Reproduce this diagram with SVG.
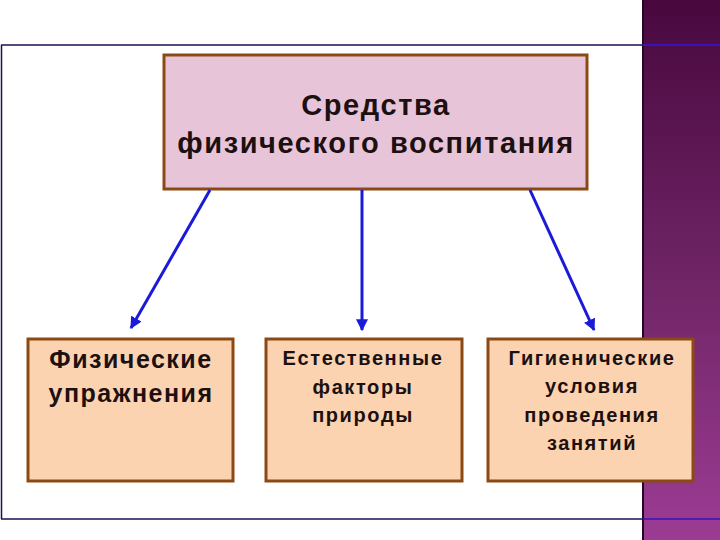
<svg xmlns="http://www.w3.org/2000/svg" width="720" height="540" viewBox="0 0 720 540">
  <defs>
    <linearGradient id="purp" x1="0" y1="0" x2="0" y2="1">
      <stop offset="0" stop-color="#48083e"/>
      <stop offset="0.5" stop-color="#6e2464"/>
      <stop offset="1" stop-color="#9c3c94"/>
    </linearGradient>
    <marker id="ah" viewBox="0 0 10 10" refX="9" refY="5" markerWidth="4" markerHeight="4" orient="auto">
      <path d="M0,0 L10,5 L0,10 z" fill="#1a1ad8"/>
    </marker>
  </defs>
  <style>
    .top { fill: #e8c4d8; stroke: #8b4a14; stroke-width: 3; }
    .sub { fill: #fbd3b0; stroke: #8b4a14; stroke-width: 3; }
    .t { font-family: "Liberation Sans", Arial, sans-serif; font-weight: bold; fill: #1c1010; text-anchor: middle; }
    .conn line { stroke: #1a1ad8; stroke-width: 3; marker-end: url(#ah); }
  </style>
  <rect width="720" height="540" fill="#ffffff"/>
  <rect x="643" y="0" width="77" height="540" fill="url(#purp)"/>
  <line x1="643" y1="0" x2="643" y2="540" stroke="#2a0626" stroke-width="2"/>
  <g id="frame" fill="none">
    <line x1="1" y1="45" x2="643" y2="45" stroke="#1a1050" stroke-width="1.5"/>
    <line x1="643" y1="45" x2="720" y2="45" stroke="#3a10c0" stroke-width="2"/>
    <line x1="1.5" y1="45" x2="1.5" y2="519" stroke="#1a1050" stroke-width="1.5"/>
    <line x1="1" y1="519" x2="643" y2="519" stroke="#1a1050" stroke-width="1.5"/>
    <line x1="643" y1="519" x2="720" y2="519" stroke="#3a10c0" stroke-width="1.5"/>
  </g>
  <g id="root">
    <rect class="top" x="164" y="55" width="423" height="134"/>
    <text class="t" x="376" y="115" font-size="29" letter-spacing="1.6">Средства</text>
    <text class="t" x="376" y="153" font-size="29" letter-spacing="1.6">физического воспитания</text>
  </g>
  <g id="n1">
    <rect class="sub" x="28" y="339" width="205" height="142"/>
    <text class="t" x="131" y="368" font-size="25" letter-spacing="1.5">Физические</text>
    <text class="t" x="131" y="402" font-size="25" letter-spacing="1.5">упражнения</text>
  </g>
  <g id="n2">
    <rect class="sub" x="266" y="339" width="196" height="142"/>
    <text class="t" x="363" y="365" font-size="20" letter-spacing="1.6">Естественные</text>
    <text class="t" x="363" y="394" font-size="20" letter-spacing="1.6">факторы</text>
    <text class="t" x="363" y="422" font-size="20" letter-spacing="1.6">природы</text>
  </g>
  <g id="n3">
    <rect class="sub" x="488" y="339" width="205" height="142"/>
    <text class="t" x="592" y="365" font-size="20" letter-spacing="1.6">Гигиенические</text>
    <text class="t" x="592" y="393" font-size="20" letter-spacing="1.6">условия</text>
    <text class="t" x="592" y="422" font-size="20" letter-spacing="1.6">проведения</text>
    <text class="t" x="592" y="450" font-size="20" letter-spacing="1.6">занятий</text>
  </g>
  <g id="connectors" class="conn">
    <line x1="210" y1="190" x2="131" y2="328"/>
    <line x1="362" y1="190" x2="362" y2="330"/>
    <line x1="530" y1="190" x2="594" y2="330"/>
  </g>
</svg>
